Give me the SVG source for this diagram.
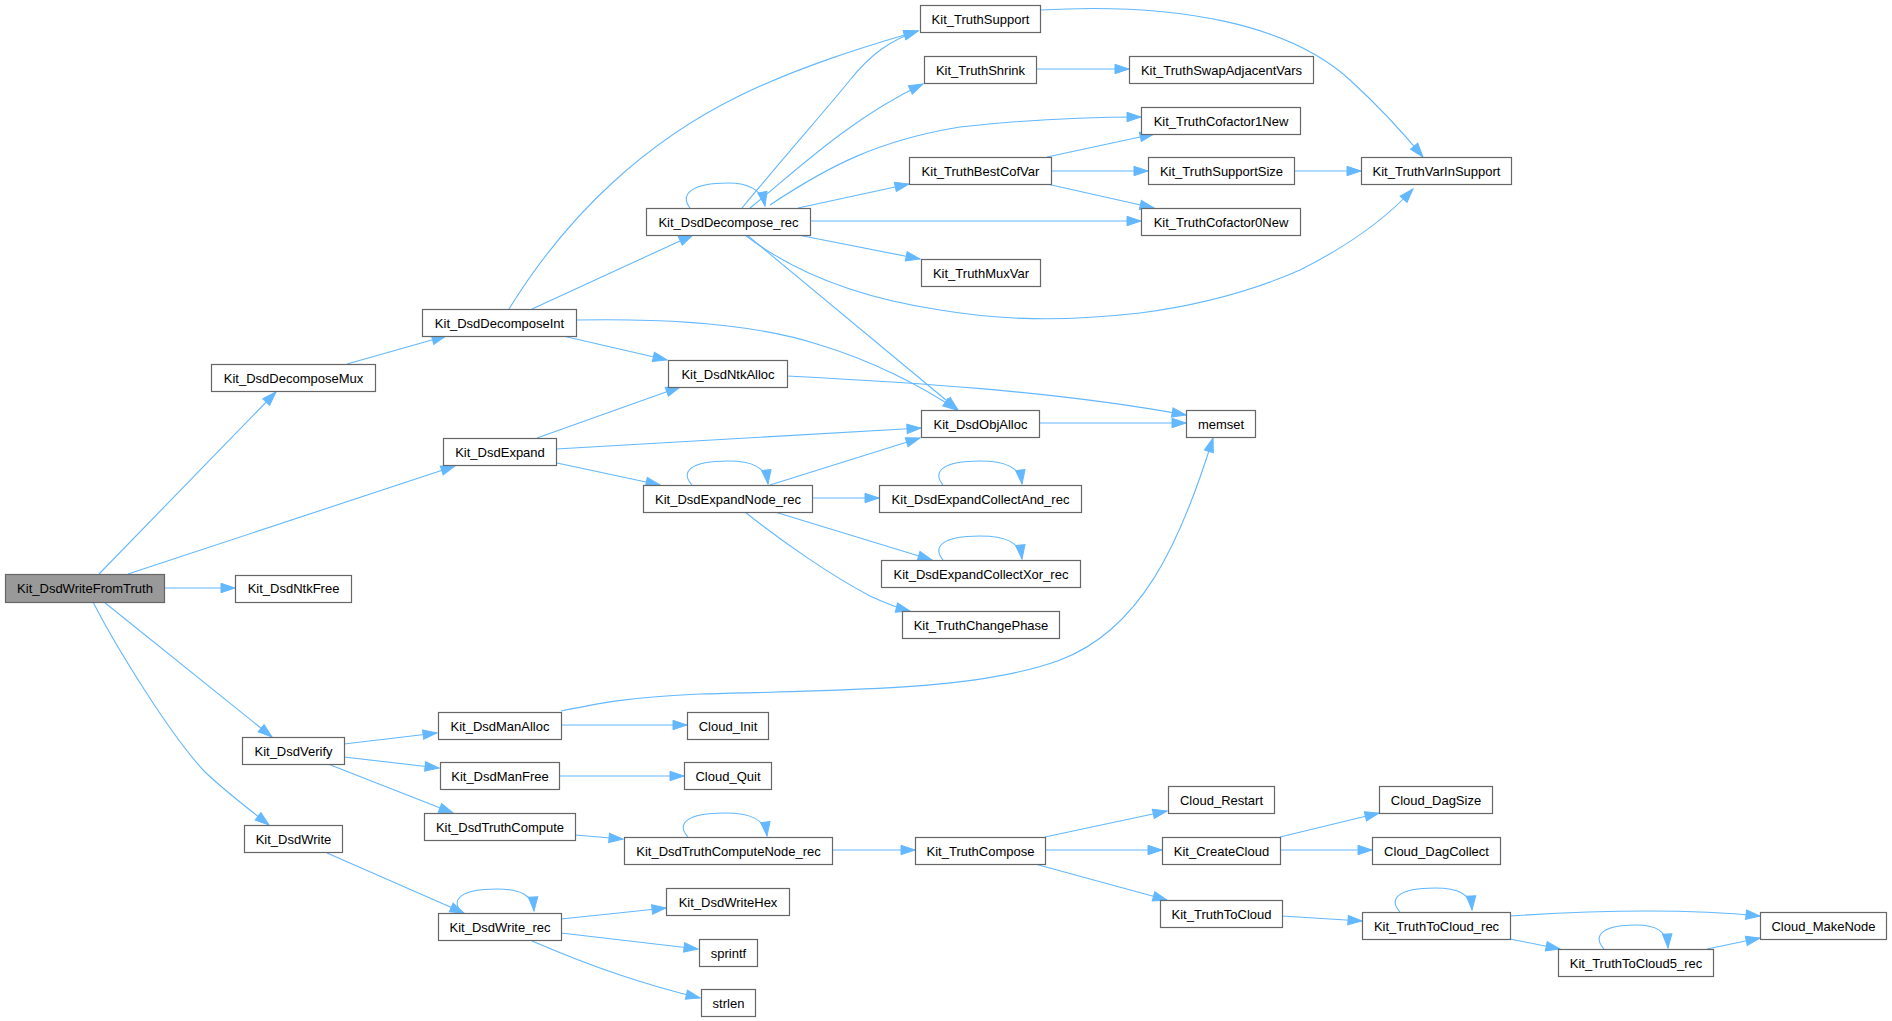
<svg xmlns="http://www.w3.org/2000/svg" width="1892" height="1021" viewBox="0 0 1892 1021">
<style>
.n rect{fill:#ffffff;stroke:#666666;stroke-width:1.2}
.n.root rect{fill:#999999}
.n text{font-family:"Liberation Sans",Arial,sans-serif;font-size:13px;fill:#000000;text-anchor:middle}
#edges path{fill:none;stroke:#63b8ff;stroke-width:1.1;marker-end:url(#arr)}
</style>
<defs>
<marker id="arr" markerUnits="userSpaceOnUse" markerWidth="16" markerHeight="12" refX="14" refY="5" orient="auto" overflow="visible">
<path d="M0,0.3 L14,5 L0,9.7 z" fill="#63b8ff" stroke="#63b8ff" stroke-width="1"/>
</marker>
</defs>
<rect width="1892" height="1021" fill="#ffffff"/>
<g id="edges">
<path d="M99,574 L276,392"/>
<path d="M128,574 L455,466"/>
<path d="M164,588 L235,588"/>
<path d="M104,602 L272,737"/>
<path d="M93,602 C115,645 170,735 205,772 C225,791 250,810 269,825"/>
<path d="M347,364 L446,336"/>
<path d="M509,309 C570,210 650,140 737,97 C800,66 870,45 918,31"/>
<path d="M532,309 L693,235"/>
<path d="M576,320 C680,318 760,325 820,345 C870,360 920,385 957,410"/>
<path d="M563,336 L667,360"/>
<path d="M690,208 C680,195 690,183 728,183 C750,183 762,190 765,206"/>
<path d="M742,208 C790,150 830,105 850,80 C870,55 890,40 918,31"/>
<path d="M750,208 C790,176 850,118 923,84"/>
<path d="M770,205 C830,165 880,140 960,127 C1040,118 1100,117 1141,117"/>
<path d="M798,208 L909,184"/>
<path d="M810,221 L1141,221"/>
<path d="M798,235 L920,259"/>
<path d="M745,235 C780,262 840,295 940,310 C1000,320 1060,322 1140,313 C1200,305 1250,292 1300,270 C1340,250 1380,225 1413,189"/>
<path d="M747,235 L958,410"/>
<path d="M1036,69 L1129,69"/>
<path d="M1040,10 C1180,2 1290,25 1350,80 C1385,112 1405,135 1423,157"/>
<path d="M1047,157 L1154,134"/>
<path d="M1051,171 L1148,171"/>
<path d="M1047,184 L1154,208"/>
<path d="M1294,171 L1361,171"/>
<path d="M787,376 C900,382 1050,390 1186,415"/>
<path d="M537,438 L680,387"/>
<path d="M556,449 L921,428"/>
<path d="M557,463 L660,485"/>
<path d="M692,485 C680,472 690,461 728,461 C752,461 766,467 768,484"/>
<path d="M770,485 L920,438"/>
<path d="M812,498 L879,498"/>
<path d="M775,512 L932,560"/>
<path d="M745,512 C780,540 830,575 870,596 C885,603 898,608 910,611"/>
<path d="M943,485 C932,472 942,461 980,461 C1005,461 1020,467 1022,484"/>
<path d="M943,560 C932,547 942,536 980,536 C1005,536 1020,542 1022,559"/>
<path d="M1039,423 L1186,423"/>
<path d="M561,711 C600,703 630,697 700,694 C850,690 980,690 1060,660 C1140,630 1180,545 1213,438"/>
<path d="M344,744 L437,733"/>
<path d="M344,757 L439,768"/>
<path d="M328,764 L453,813"/>
<path d="M561,725 L687,725"/>
<path d="M559,776 L684,776"/>
<path d="M575,835 L623,839"/>
<path d="M688,837 C676,824 686,813 725,813 C750,813 765,819 767,836"/>
<path d="M832,850 L915,850"/>
<path d="M327,853 L464,913"/>
<path d="M462,913 C450,900 460,889 497,889 C520,889 533,895 534,911"/>
<path d="M561,919 L666,908"/>
<path d="M561,933 L698,949"/>
<path d="M532,941 C560,953 590,965 620,975 C650,985 675,992 700,998"/>
<path d="M1045,837 L1167,811"/>
<path d="M1045,850 L1162,850"/>
<path d="M1035,864 L1167,900"/>
<path d="M1280,837 L1379,813"/>
<path d="M1280,850 L1372,850"/>
<path d="M1282,916 L1362,921"/>
<path d="M1400,912 C1388,899 1398,888 1435,888 C1458,888 1471,894 1472,910"/>
<path d="M1510,916 C1600,910 1690,909 1760,916"/>
<path d="M1510,939 L1560,949"/>
<path d="M1604,949 C1592,936 1602,925 1636,925 C1656,925 1667,931 1668,948"/>
<path d="M1707,949 L1760,938"/>
</g>
<g id="n_WriteFromTruth" class="n root"><rect x="5.5" y="574.5" width="159" height="28"/><text x="85" y="593">Kit_DsdWriteFromTruth</text></g>
<g id="n_DecomposeMux" class="n"><rect x="211.5" y="364.5" width="164" height="27"/><text x="293.5" y="382.5">Kit_DsdDecomposeMux</text></g>
<g id="n_NtkFree" class="n"><rect x="235.5" y="575.5" width="116" height="27"/><text x="293.5" y="593">Kit_DsdNtkFree</text></g>
<g id="n_Verify" class="n"><rect x="242.5" y="737.5" width="102" height="27"/><text x="293.5" y="755.5">Kit_DsdVerify</text></g>
<g id="n_Write" class="n"><rect x="244.5" y="825.5" width="98" height="27"/><text x="293.5" y="843.5">Kit_DsdWrite</text></g>
<g id="n_DecomposeInt" class="n"><rect x="422.5" y="309.5" width="154" height="27"/><text x="499.5" y="327.5">Kit_DsdDecomposeInt</text></g>
<g id="n_Expand" class="n"><rect x="443.5" y="438.5" width="113" height="27"/><text x="500" y="456.5">Kit_DsdExpand</text></g>
<g id="n_ManAlloc" class="n"><rect x="438.5" y="712.5" width="123" height="27"/><text x="500" y="730.5">Kit_DsdManAlloc</text></g>
<g id="n_ManFree" class="n"><rect x="440.5" y="762.5" width="119" height="27"/><text x="500" y="780.5">Kit_DsdManFree</text></g>
<g id="n_TruthCompute" class="n"><rect x="424.5" y="813.5" width="151" height="27"/><text x="500" y="831.5">Kit_DsdTruthCompute</text></g>
<g id="n_Write_rec" class="n"><rect x="438.5" y="913.5" width="123" height="27"/><text x="500" y="931.5">Kit_DsdWrite_rec</text></g>
<g id="n_Decompose_rec" class="n"><rect x="646.5" y="208.5" width="164" height="27"/><text x="728.5" y="226.5">Kit_DsdDecompose_rec</text></g>
<g id="n_NtkAlloc" class="n"><rect x="668.5" y="360.5" width="119" height="27"/><text x="728" y="378.5">Kit_DsdNtkAlloc</text></g>
<g id="n_ExpandNode_rec" class="n"><rect x="643.5" y="485.5" width="169" height="27"/><text x="728" y="503.5">Kit_DsdExpandNode_rec</text></g>
<g id="n_CloudInit" class="n"><rect x="687.5" y="712.5" width="81" height="27"/><text x="728" y="730.5">Cloud_Init</text></g>
<g id="n_CloudQuit" class="n"><rect x="684.5" y="762.5" width="87" height="27"/><text x="728" y="780.5">Cloud_Quit</text></g>
<g id="n_TruthComputeNode_rec" class="n"><rect x="624.5" y="837.5" width="208" height="27"/><text x="728.5" y="855.5">Kit_DsdTruthComputeNode_rec</text></g>
<g id="n_WriteHex" class="n"><rect x="666.5" y="888.5" width="123" height="27"/><text x="728" y="906.5">Kit_DsdWriteHex</text></g>
<g id="n_sprintf" class="n"><rect x="699.5" y="939.5" width="58" height="27"/><text x="728.5" y="957.5">sprintf</text></g>
<g id="n_strlen" class="n"><rect x="701.5" y="989.5" width="54" height="27"/><text x="728.5" y="1007.5">strlen</text></g>
<g id="n_TruthSupport" class="n"><rect x="920.5" y="5.5" width="120" height="27"/><text x="980.5" y="23.5">Kit_TruthSupport</text></g>
<g id="n_TruthShrink" class="n"><rect x="924.5" y="56.5" width="112" height="27"/><text x="980.5" y="74.5">Kit_TruthShrink</text></g>
<g id="n_BestCofVar" class="n"><rect x="909.5" y="157.5" width="142" height="27"/><text x="980.5" y="175.5">Kit_TruthBestCofVar</text></g>
<g id="n_MuxVar" class="n"><rect x="921.5" y="259.5" width="119" height="27"/><text x="981" y="277.5">Kit_TruthMuxVar</text></g>
<g id="n_ObjAlloc" class="n"><rect x="921.5" y="410.5" width="118" height="27"/><text x="980.5" y="428.5">Kit_DsdObjAlloc</text></g>
<g id="n_CollectAnd_rec" class="n"><rect x="879.5" y="485.5" width="202" height="27"/><text x="980.5" y="503.5">Kit_DsdExpandCollectAnd_rec</text></g>
<g id="n_CollectXor_rec" class="n"><rect x="881.5" y="560.5" width="199" height="27"/><text x="981" y="578.5">Kit_DsdExpandCollectXor_rec</text></g>
<g id="n_ChangePhase" class="n"><rect x="902.5" y="611.5" width="157" height="27"/><text x="981" y="629.5">Kit_TruthChangePhase</text></g>
<g id="n_TruthCompose" class="n"><rect x="915.5" y="837.5" width="130" height="27"/><text x="980.5" y="855.5">Kit_TruthCompose</text></g>
<g id="n_SwapAdjacentVars" class="n"><rect x="1129.5" y="56.5" width="184" height="27"/><text x="1221.5" y="74.5">Kit_TruthSwapAdjacentVars</text></g>
<g id="n_Cofactor1New" class="n"><rect x="1141.5" y="107.5" width="159" height="27"/><text x="1221" y="125.5">Kit_TruthCofactor1New</text></g>
<g id="n_SupportSize" class="n"><rect x="1148.5" y="157.5" width="146" height="27"/><text x="1221.5" y="175.5">Kit_TruthSupportSize</text></g>
<g id="n_Cofactor0New" class="n"><rect x="1141.5" y="208.5" width="159" height="27"/><text x="1221" y="226.5">Kit_TruthCofactor0New</text></g>
<g id="n_memset" class="n"><rect x="1186.5" y="410.5" width="69" height="27"/><text x="1221" y="428.5">memset</text></g>
<g id="n_CloudRestart" class="n"><rect x="1168.5" y="786.5" width="106" height="27"/><text x="1221.5" y="804.5">Cloud_Restart</text></g>
<g id="n_CreateCloud" class="n"><rect x="1162.5" y="837.5" width="118" height="27"/><text x="1221.5" y="855.5">Kit_CreateCloud</text></g>
<g id="n_TruthToCloud" class="n"><rect x="1160.5" y="900.5" width="122" height="27"/><text x="1221.5" y="918.5">Kit_TruthToCloud</text></g>
<g id="n_VarInSupport" class="n"><rect x="1361.5" y="157.5" width="150" height="27"/><text x="1436.5" y="175.5">Kit_TruthVarInSupport</text></g>
<g id="n_DagSize" class="n"><rect x="1379.5" y="786.5" width="113" height="27"/><text x="1436" y="804.5">Cloud_DagSize</text></g>
<g id="n_DagCollect" class="n"><rect x="1372.5" y="837.5" width="128" height="27"/><text x="1436.5" y="855.5">Cloud_DagCollect</text></g>
<g id="n_TruthToCloud_rec" class="n"><rect x="1362.5" y="912.5" width="148" height="27"/><text x="1436.5" y="930.5">Kit_TruthToCloud_rec</text></g>
<g id="n_TruthToCloud5_rec" class="n"><rect x="1558.5" y="949.5" width="155" height="27"/><text x="1636" y="967.5">Kit_TruthToCloud5_rec</text></g>
<g id="n_MakeNode" class="n"><rect x="1760.5" y="912.5" width="126" height="27"/><text x="1823.5" y="930.5">Cloud_MakeNode</text></g>
</svg>
